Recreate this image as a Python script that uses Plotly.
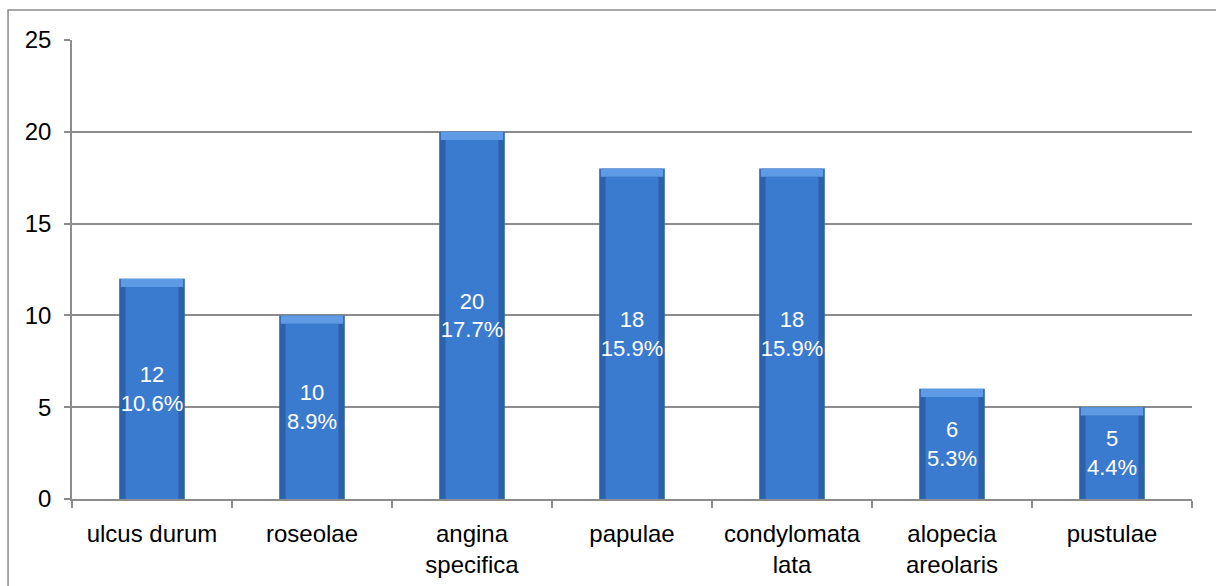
import plotly.graph_objects as go

# Syphilis manifestations: case counts and share of all patients
categories = ["ulcus durum", "roseolae", "angina<br>specifica", "papulae",
              "condylomata<br>lata", "alopecia<br>areolaris", "pustulae"]
counts = [12, 10, 20, 18, 18, 6, 5]
percents = ["10.6%", "8.9%", "17.7%", "15.9%", "15.9%", "5.3%", "4.4%"]
y_ticks = [0, 5, 10, 15, 20, 25]

FONT = "Liberation Sans, Arial, sans-serif"
GRID = "#8c8c8c"
CAP = 0.45  # depth of the bevelled top, in data units

labels = [f"{c}<br>{p}" for c, p in zip(counts, percents)]

fig = go.Figure()

# dark outer body gives the shaded side edges
fig.add_trace(go.Bar(x=categories, y=counts, width=0.41,
                     marker=dict(color="#2c62aa", line=dict(width=0)),
                     hoverinfo="skip"))
# lighter inner body
fig.add_trace(go.Bar(x=categories, y=[c - CAP for c in counts], width=0.33,
                     marker=dict(color="#3b7bcf", line=dict(width=0)),
                     hoverinfo="skip"))
# highlighted top bevel
fig.add_trace(go.Bar(x=categories, y=[CAP] * len(counts),
                     base=[c - CAP for c in counts], width=0.39,
                     marker=dict(color="#5f9ae4", line=dict(width=0)),
                     hoverinfo="skip"))
# value labels on a transparent bar of the full height
fig.add_trace(go.Bar(x=categories, y=counts, width=0.7, text=labels,
                     textposition="inside", insidetextanchor="middle",
                     constraintext="none",
                     textfont=dict(family=FONT, size=22, color="white"),
                     marker=dict(color="rgba(0,0,0,0)", line=dict(width=0)),
                     hoverinfo="skip"))

# outer chart frame
fig.add_shape(type="rect", xref="paper", yref="paper",
              x0=-0.0571, x1=1.2, y0=-0.4, y1=1.0654,
              line=dict(color=GRID, width=1.5), layer="below")

fig.update_layout(
    width=1216, height=586,
    margin=dict(l=72, r=24, t=40, b=87, autoexpand=False),
    barmode="overlay",
    showlegend=False,
    paper_bgcolor="white", plot_bgcolor="white",
    font=dict(family=FONT, size=22, color="black"),
    xaxis=dict(type="category", showline=True, linecolor=GRID, linewidth=1.5,
               ticks="outside", tickson="boundaries", ticklen=7,
               tickcolor=GRID, tickwidth=1.5, showgrid=False,
               ticklabelstandoff=12, automargin=False,
               tickfont=dict(family=FONT, size=24, color="black")),
    yaxis=dict(range=[0, 25], tickvals=y_ticks, showline=True,
               linecolor=GRID, linewidth=1.5, ticks="outside", ticklen=6,
               tickcolor=GRID, tickwidth=1.5, showgrid=True, gridcolor=GRID,
               gridwidth=1.5, zeroline=False, ticklabelstandoff=8,
               automargin=False,
               tickfont=dict(family=FONT, size=24, color="black")),
)

fig.write_html("out.html")
